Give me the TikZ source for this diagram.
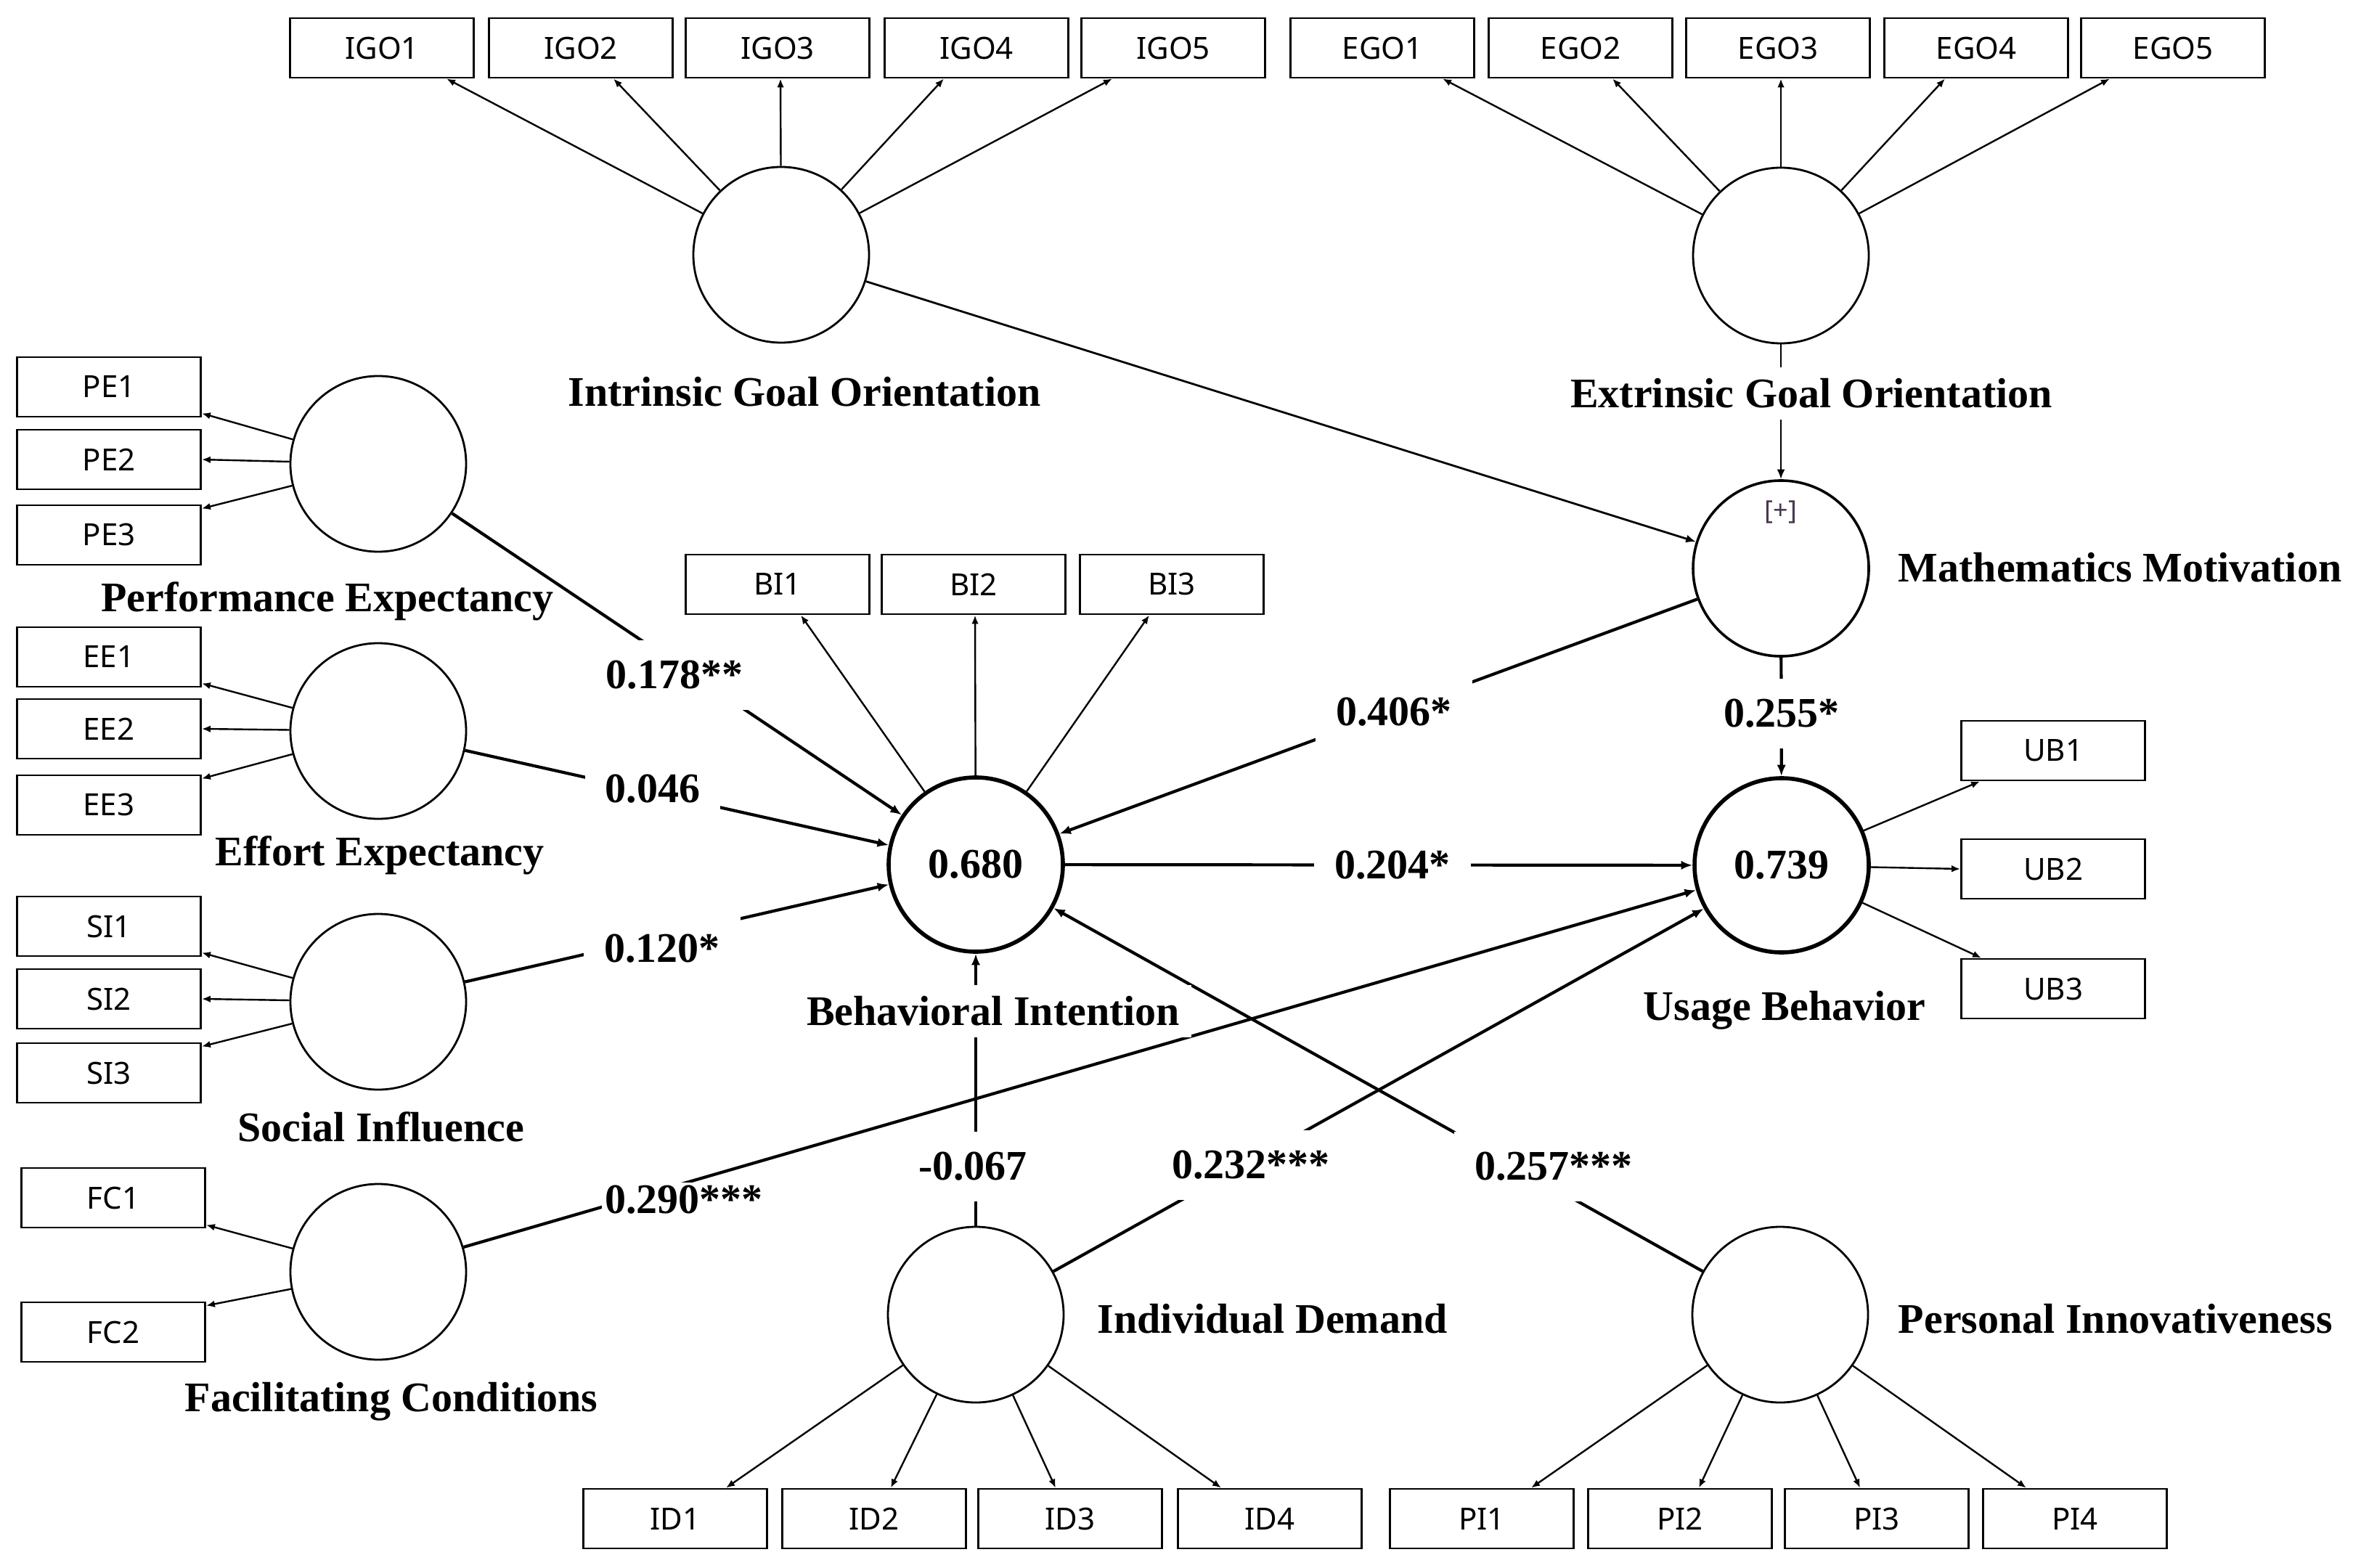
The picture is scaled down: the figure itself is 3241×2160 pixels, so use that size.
\documentclass[tikz,border=0pt]{standalone}
\usepackage{fontspec}
\setmainfont{Liberation Serif}
\newfontfamily\boxfont{Noto Sans}
\usetikzlibrary{arrows.meta,calc}
\definecolor{plusc}{RGB}{70,55,80}
\begin{document}
\begin{tikzpicture}[x=0.25pt,y=-0.25pt,
  ind/.style={draw,line width=0.7pt,minimum width=63.25pt,minimum height=20.5pt,inner sep=0pt,font=\boxfont\fontsize{10.5}{12}\selectfont},
  lat/.style={circle,draw,line width=0.7pt,minimum size=60.5pt,inner sep=0pt},
  latb/.style={lat,line width=1.4pt,minimum size=60pt,font=\fontsize{14.5}{16}\selectfont\bfseries},
  lab/.style={font=\fontsize{14.5}{16}\selectfont\bfseries,inner sep=4pt},
  coef/.style={font=\fontsize{14.5}{16}\selectfont\bfseries,fill=white,inner xsep=7pt,inner ysep=7pt},
  ld/.style={line width=0.6pt,-{Latex[length=3pt,width=2.4pt]}},
  pth/.style={line width=1.05pt,-{Latex[length=3.9pt,width=3.1pt]}},
  thn/.style={line width=0.7pt,-{Latex[length=3.4pt,width=2.8pt]}},
]
\useasboundingbox (0,0) rectangle (3241,2160);

% indicator boxes
\node[ind] (IGO1) at (526,66) {IGO1};
\node[ind] (IGO2) at (800,66) {IGO2};
\node[ind] (IGO3) at (1071,66) {IGO3};
\node[ind] (IGO4) at (1345,66) {IGO4};
\node[ind] (IGO5) at (1616,66) {IGO5};
\node[ind] (EGO1) at (1904,66) {EGO1};
\node[ind] (EGO2) at (2177,66) {EGO2};
\node[ind] (EGO3) at (2449,66) {EGO3};
\node[ind] (EGO4) at (2722,66) {EGO4};
\node[ind] (EGO5) at (2993,66) {EGO5};

\node[ind] (PE1) at (150,533) {PE1};
\node[ind] (PE2) at (150,633) {PE2};
\node[ind] (PE3) at (150,737) {PE3};
\node[ind] (EE1) at (150,905) {EE1};
\node[ind] (EE2) at (150,1004) {EE2};
\node[ind] (EE3) at (150,1109) {EE3};
\node[ind] (SI1) at (150,1276) {SI1};
\node[ind] (SI2) at (150,1376) {SI2};
\node[ind] (SI3) at (150,1478) {SI3};
\node[ind] (FC1) at (156,1650) {FC1};
\node[ind] (FC2) at (156,1835) {FC2};

\node[ind] (BI1) at (1071,805) {BI1};
\node[ind] (BI2) at (1341,805) {BI2};
\node[ind] (BI3) at (1614,805) {BI3};

\node[ind] (UB1) at (2828,1034) {UB1};
\node[ind] (UB2) at (2828,1197) {UB2};
\node[ind] (UB3) at (2828,1362) {UB3};

\node[ind] (ID1) at (930,2092) {ID1};
\node[ind] (ID2) at (1204,2092) {ID2};
\node[ind] (ID3) at (1474,2092) {ID3};
\node[ind] (ID4) at (1749,2092) {ID4};
\node[ind] (PI1) at (2041,2092) {PI1};
\node[ind] (PI2) at (2314,2092) {PI2};
\node[ind] (PI3) at (2585,2092) {PI3};
\node[ind] (PI4) at (2858,2092) {PI4};

% latent variables
\node[lat] (IGO) at (1076,351) {};
\node[lat] (EGO) at (2453,352) {};
\node[lat,line width=0.9pt] (MM) at (2453,783) {};
\node[font=\boxfont\fontsize{9}{10}\selectfont,text=plusc] (plus) at (2453,705) {[+]};
\node[latb] (BI) at (1344,1191) {0.680};
\node[latb] (UB) at (2454,1192) {0.739};
\node[lat] (ID) at (1344,1811) {};
\node[lat] (PI) at (2452,1811) {};
\node[lat] (PE) at (521,639) {};
\node[lat] (EE) at (521,1007) {};
\node[lat] (SI) at (521,1380) {};
\node[lat] (FC) at (521,1752) {};

% loadings
\draw[ld] (IGO) -- ($(IGO1.south)+(89,0)$);
\draw[ld] (IGO) -- ($(IGO2.south)+(45,0)$);
\draw[ld] (IGO) -- ($(IGO3.south)+(4,0)$);
\draw[ld] (IGO) -- ($(IGO4.south)+(-45,0)$);
\draw[ld] (IGO) -- ($(IGO5.south)+(-84,0)$);
\draw[ld] (EGO) -- ($(EGO1.south)+(83,0)$);
\draw[ld] (EGO) -- ($(EGO2.south)+(44,0)$);
\draw[ld] (EGO) -- ($(EGO3.south)+(4,0)$);
\draw[ld] (EGO) -- ($(EGO4.south)+(-43,0)$);
\draw[ld] (EGO) -- ($(EGO5.south)+(-87,0)$);

\draw[ld] (PE) -- ($(PE1.south east)+(0,-6)$);
\draw[ld] (PE) -- (PE2.east);
\draw[ld] (PE) -- ($(PE3.north east)+(0,6)$);
\draw[ld] (EE) -- ($(EE1.south east)+(0,-6)$);
\draw[ld] (EE) -- (EE2.east);
\draw[ld] (EE) -- ($(EE3.north east)+(0,6)$);
\draw[ld] (SI) -- ($(SI1.south east)+(0,-6)$);
\draw[ld] (SI) -- (SI2.east);
\draw[ld] (SI) -- ($(SI3.north east)+(0,6)$);
\draw[ld] (FC) -- ($(FC1.south east)+(0,-5)$);
\draw[ld] (FC) -- ($(FC2.north east)+(0,6)$);

\draw[ld] (BI) -- ($(BI1.south)+(32,0)$);
\draw[ld] (BI) -- ($(BI2.south)+(2,0)$);
\draw[ld] (BI) -- ($(BI3.south)+(-31,0)$);

\draw[ld] (UB) -- ($(UB1.south west)+(27,0)$);
\draw[ld] (UB) -- (UB2.west);
\draw[ld] (UB) -- ($(UB3.north west)+(29,0)$);

\draw[ld] (ID) -- ($(ID1.north)+(70,0)$);
\draw[ld] (ID) -- ($(ID2.north)+(23,0)$);
\draw[ld] (ID) -- ($(ID3.north)+(-20,0)$);
\draw[ld] (ID) -- ($(ID4.north)+(-67,0)$);
\draw[ld] (PI) -- ($(PI1.north)+(68,0)$);
\draw[ld] (PI) -- ($(PI2.north)+(26,0)$);
\draw[ld] (PI) -- ($(PI3.north)+(-23,0)$);
\draw[ld] (PI) -- ($(PI4.north)+(-67,0)$);

% structural paths
\draw[thn] (IGO) -- (MM);
\draw[thn] (EGO) -- (MM);
\draw[pth] (PE) -- (BI);
\draw[pth] (EE) -- (BI);
\draw[pth] (SI) -- (BI);
\draw[pth] (FC) -- (UB);
\draw[pth] (ID) -- (BI);
\draw[pth] (ID) -- (UB);
\draw[pth] (PI) -- (BI);
\draw[pth] (BI) -- (UB);
\draw[pth] (MM) -- (BI);
\draw[pth] (MM) -- (UB);

% construct labels
\node[lab] (lIGO) at (1108,540) {Intrinsic Goal Orientation};
\node[lab,fill=white] (lEGO) at (2495,542) {Extrinsic Goal Orientation};
\node[lab,anchor=west] (lMM) at (2598,782) {Mathematics Motivation};
\node[lab] (lPE) at (451,828) {Performance Expectancy};
\node[lab] (lEE) at (523,1178) {Effort Expectancy};
\node[lab] (lSI) at (525,1552) {Social Influence};
\node[lab] (lFC) at (539,1931) {Facilitating Conditions};
\node[lab,fill=white] (lBI) at (1368,1393) {Behavioral Intention};
\node[lab] (lUB) at (2458,1392) {Usage Behavior};
\node[lab,anchor=west] (lID) at (1495,1817) {Individual Demand};
\node[lab,anchor=west] (lPI) at (2598,1817) {Personal Innovativeness};

% coefficients
\node[coef] (c1) at (929,930) {0.178**};
\node[coef] (c2) at (899,1087) {0.046};
\node[coef] (c3) at (912,1307) {0.120*};
\node[coef,inner sep=1pt] (c4) at (942,1653) {0.290***};
\node[coef] (c5) at (1340,1607) {-0.067};
\node[coef] (c6) at (1723,1605) {0.232***};
\node[coef] (c7) at (2140,1607) {0.257***};
\node[coef] (c8) at (1918,1192) {0.204*};
\node[coef] (c9) at (1920,981) {0.406*};
\node[coef] (c10) at (2454,983) {0.255*};
\end{tikzpicture}
\end{document}
